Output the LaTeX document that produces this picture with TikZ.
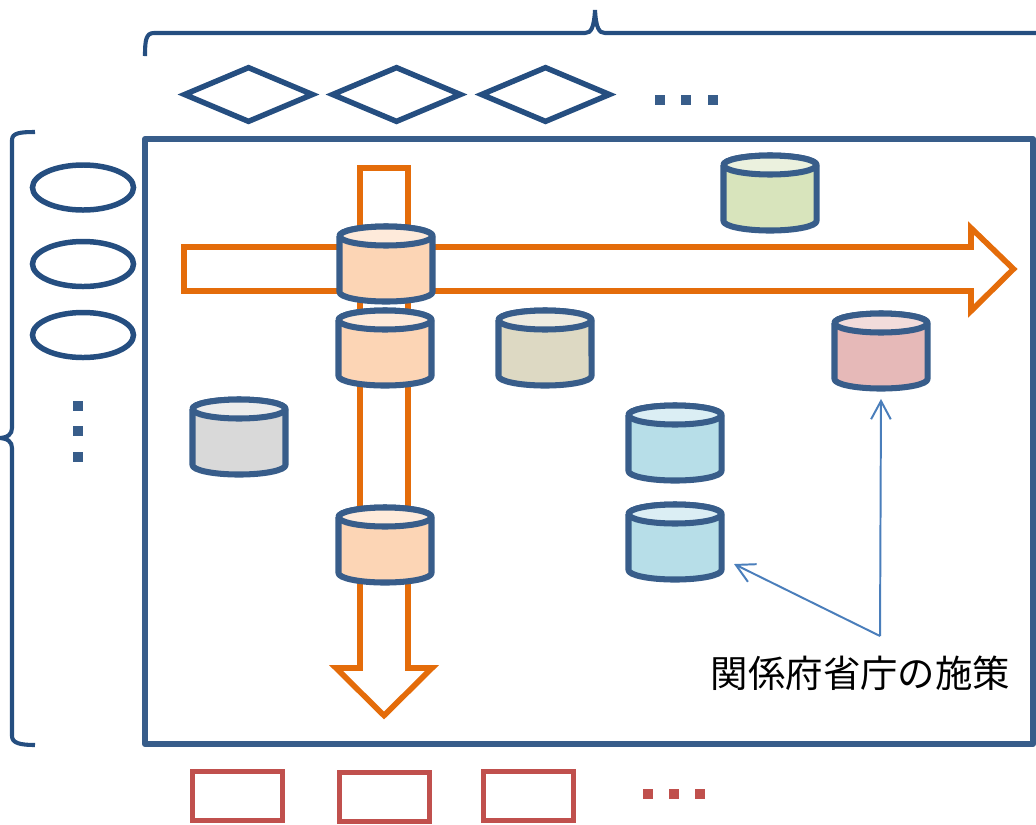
\documentclass[tikz,border=0pt]{standalone}
\usepackage{fontspec}
\newfontfamily\cjk{Noto Sans CJK JP}
\usetikzlibrary{shapes.geometric,arrows.meta}
\definecolor{framec}{HTML}{385D8A}
\definecolor{navyc}{HTML}{254E80}
\definecolor{orangec}{HTML}{E46C0A}
\definecolor{redc}{HTML}{C0504D}
\definecolor{leaderc}{HTML}{4A7EBB}
\definecolor{orangeb}{HTML}{FCD5B5}
\definecolor{orangel}{HTML}{FEEADA}
\definecolor{grayb}{HTML}{D9D9D9}
\definecolor{grayl}{HTML}{ECECEC}
\definecolor{greenb}{HTML}{D8E4BC}
\definecolor{greenl}{HTML}{EBF1DE}
\definecolor{tanb}{HTML}{DDD9C3}
\definecolor{tanl}{HTML}{EEECE1}
\definecolor{pinkb}{HTML}{E6B9B8}
\definecolor{pinkl}{HTML}{F2DCDB}
\definecolor{blueb}{HTML}{B7DEE8}
\definecolor{bluel}{HTML}{DBEEF4}
\tikzset{
	drumhull/.style={rectangle,inner sep=0pt,outer sep=0pt,minimum width=2.325cm,minimum height=1.875cm},
	drumline/.style={draw=framec,line width=4.3pt,line join=round},
	axisdiamond/.style={diamond,draw=navyc,line width=3.9pt,minimum width=3.25cm,minimum height=1.4cm,inner sep=0pt},
	axisoval/.style={ellipse,draw=navyc,line width=3.9pt,minimum width=2.525cm,minimum height=1.125cm,inner sep=0pt},
	outbox/.style={rectangle,draw=redc,line width=4.2pt,minimum width=2.25cm,minimum height=1.225cm,inner sep=0pt},
	dotmark/.style={rectangle,fill=#1,minimum size=0.25cm,inner sep=0pt},
	brace/.style={draw=navyc,line width=2.9pt},
	bigarrow/.style={draw=orangec,line width=4pt,fill=white,miter limit=10},
	leader/.style={draw=leaderc,line width=1.4pt,-{Straight Barb[length=13pt,width=14pt]}}
}
\newcommand{\drum}[5]{
	\node[drumhull](#1) at(#2,#3){};
	\draw[drumline,fill=#4]([yshift=-0.2375cm]#1.north west)--([yshift=0.2375cm]#1.south west)
		arc[start angle=180,end angle=360,x radius=1.1625cm,y radius=0.2375cm]
		--([yshift=-0.2375cm]#1.north east)
		arc[start angle=0,end angle=180,x radius=1.1625cm,y radius=0.2375cm]--cycle;
	\draw[drumline,fill=#5]([yshift=-0.2375cm]#1.north) ellipse[x radius=1.1625cm,y radius=0.2375cm];
}
\begin{document}
\begin{tikzpicture}[x=0.025cm,y=-0.025cm]
	\useasboundingbox(0,0) rectangle (1036,824);
	\draw[brace](145,56)..controls(145,40)and(146,33)..(154,33)--(585,33)..controls(591,33)and(594,28)..(595,10)..controls(596,28)and(599,33)..(605,33)--(1040,33);
	\draw[brace](35,132)..controls(20,132)and(12,133)..(12,140)--(12,428)..controls(12,434)and(8,438)..(-2,438)..controls(8,438)and(12,442)..(12,448)--(12,736)..controls(12,743)and(20,745)..(35,745);
	\draw[framec,line width=4.4pt,line join=round](145,139) rectangle (1033,744);
	\node[axisdiamond](dia1) at(248.5,94.5){};
	\node[axisdiamond](dia2) at(396.5,94.5){};
	\node[axisdiamond](dia3) at(545.5,94.5){};
	\foreach \i/\x in {1/660,2/686,3/713}
		\node[dotmark=framec](topdot\i) at(\x,100){};
	\node[axisoval](oval1) at(83,187.5){};
	\node[axisoval](oval2) at(83,264){};
	\node[axisoval](oval3) at(83,335){};
	\foreach \i/\y in {1/406,2/431,3/457}
		\node[dotmark=framec](leftdot\i) at(78,\y){};
	\node[outbox](box1) at(237.5,796){};
	\node[outbox](box2) at(384.5,797){};
	\node[outbox](box3) at(528.5,796){};
	\foreach \i/\x in {1/648,2/674,3/700}
		\node[dotmark=redc](botdot\i) at(\x,794){};
	\draw[bigarrow](360,668)--(360,168)--(408,168)--(408,668)--(432,668)--(384,715.5)--(336,668)--cycle;
	\draw[bigarrow](184,247)--(971,247)--(971,228)--(1013.5,269)--(971,311)--(971,291)--(184,291)--cycle;
	\drum{orange1}{386}{264}{orangeb}{orangel}
	\drum{orange2}{385}{348}{orangeb}{orangel}
	\drum{orange3}{385}{545}{orangeb}{orangel}
	\drum{gray1}{239}{437}{grayb}{grayl}
	\drum{green1}{770}{193}{greenb}{greenl}
	\drum{tan1}{545}{348}{tanb}{tanl}
	\drum{pink1}{881}{351}{pinkb}{pinkl}
	\drum{blue1}{675}{443}{blueb}{bluel}
	\drum{blue2}{675}{542}{blueb}{bluel}
	\node[inner sep=0pt,font=\cjk\fontsize{26.6pt}{30pt}\selectfont](caption) at(860.5,673){関係府省庁の施策};
	\coordinate(fork) at(880,636);
	\draw[leader](fork)--([xshift=1.475cm,yshift=-0.55cm]blue2.center);
	\draw[leader](fork)--([yshift=-0.26cm]pink1.south);
\end{tikzpicture}
\end{document}
